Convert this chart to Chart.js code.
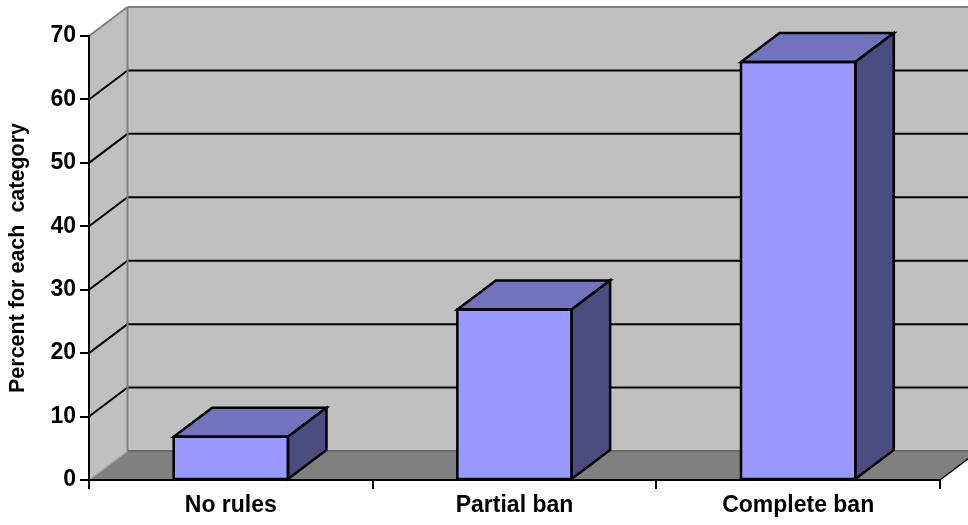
<!DOCTYPE html>
<html>
<head>
<meta charset="utf-8">
<script src="https://cdn.jsdelivr.net/npm/chart.js@4"></script>
<style>
  html, body { margin: 0; padding: 0; background: #ffffff; }
  #wrap { width: 968px; height: 525px; }
</style>
</head>
<body>
<div id="wrap"><canvas id="c" width="968" height="525"></canvas></div>
<script>
// Survey answers: share of respondents per rule type
const categories = ['No rules', 'Partial ban', 'Complete ban'];
const percentValues = [6.8, 26.9, 65.9];
const yTicks = [0, 10, 20, 30, 40, 50, 60, 70];
const yAxisTitle = 'Percent for each  category';

// Depth of the 3-D box (pixels back and up)
const DEPTH_X = 38.5;
const DEPTH_Y = 29;

const FONT = "'Liberation Sans', Arial, sans-serif";

function poly(ctx, pts, fill, stroke, lw) {
  ctx.beginPath();
  ctx.moveTo(pts[0][0], pts[0][1]);
  for (let i = 1; i < pts.length; i++) ctx.lineTo(pts[i][0], pts[i][1]);
  ctx.closePath();
  if (fill) { ctx.fillStyle = fill; ctx.fill(); }
  if (stroke) { ctx.strokeStyle = stroke; ctx.lineWidth = lw; ctx.lineJoin = 'miter'; ctx.stroke(); }
}

function line(ctx, x1, y1, x2, y2, color, lw) {
  ctx.beginPath();
  ctx.moveTo(x1, y1);
  ctx.lineTo(x2, y2);
  ctx.strokeStyle = color;
  ctx.lineWidth = lw;
  ctx.stroke();
}

// Walls, floor and gridlines of the 3-D frame
const frame3d = {
  id: 'frame3d',
  beforeDraw(chart) {
    const ctx = chart.ctx;
    const a = chart.chartArea;
    const y = chart.scales.y;
    const L = a.left, R = a.right, T = a.top, B = a.bottom;
    const far = chart.width + 20;
    ctx.save();
    // back wall
    poly(ctx, [[L + DEPTH_X, T - DEPTH_Y], [far, T - DEPTH_Y], [far, B - DEPTH_Y], [L + DEPTH_X, B - DEPTH_Y]], '#c0c0c0');
    // left side wall
    poly(ctx, [[L, T], [L + DEPTH_X, T - DEPTH_Y], [L + DEPTH_X, B - DEPTH_Y], [L, B]], '#c0c0c0');
    // floor
    poly(ctx, [[L, B], [R, B], [R + DEPTH_X, B - DEPTH_Y], [L + DEPTH_X, B - DEPTH_Y]], '#808080');

    // gridlines on the walls
    ctx.lineCap = 'butt';
    yTicks.forEach(v => {
      const py = y.getPixelForValue(v);
      if (v === yTicks[0] || v === yTicks[yTicks.length - 1]) return;
      line(ctx, L, py, L + DEPTH_X, py - DEPTH_Y, '#000000', 2);
      line(ctx, L + DEPTH_X, py - DEPTH_Y, far, py - DEPTH_Y, '#000000', 2);
    });
    // wall edges
    const topY = y.getPixelForValue(yTicks[yTicks.length - 1]);
    const botY = y.getPixelForValue(yTicks[0]);
    line(ctx, L, topY, L + DEPTH_X, topY - DEPTH_Y, '#808080', 2);
    line(ctx, L + DEPTH_X, topY - DEPTH_Y, far, topY - DEPTH_Y, '#808080', 2);
    line(ctx, L + DEPTH_X, topY - DEPTH_Y, L + DEPTH_X, botY - DEPTH_Y, '#808080', 2);
    line(ctx, L + DEPTH_X, botY - DEPTH_Y, far, botY - DEPTH_Y, '#6a6a6a', 2);
    line(ctx, L, botY, L + DEPTH_X, botY - DEPTH_Y, '#a8a8a8', 1.5);
    // right front edge of the floor
    line(ctx, R, botY, R + DEPTH_X, botY - DEPTH_Y, '#000000', 1.5);
    ctx.restore();
  }
};

// Top and side faces of each column
const columns3d = {
  id: 'columns3d',
  afterDatasetsDraw(chart) {
    const ctx = chart.ctx;
    const meta = chart.getDatasetMeta(0);
    ctx.save();
    meta.data.forEach(bar => {
      const p = bar.getProps(['x', 'y', 'base', 'width'], true);
      const l = p.x - p.width / 2, r = p.x + p.width / 2;
      const t = p.y, b = p.base;
      poly(ctx, [[l, t], [r, t], [r + DEPTH_X, t - DEPTH_Y], [l + DEPTH_X, t - DEPTH_Y]], '#7373bd', '#000000', 2.5);
      poly(ctx, [[r, t], [r + DEPTH_X, t - DEPTH_Y], [r + DEPTH_X, b - DEPTH_Y], [r, b]], '#4c4c80', '#000000', 2.5);
      // front outline on top so the joins stay crisp
      poly(ctx, [[l, t], [r, t], [r, b], [l, b]], null, '#000000', 2.5);
    });
    ctx.restore();
  }
};

new Chart(document.getElementById('c'), {
  type: 'bar',
  data: {
    labels: categories,
    datasets: [{
      data: percentValues,
      backgroundColor: '#9999ff',
      borderColor: '#000000',
      borderWidth: 0,
      barPercentage: 0.403,
      categoryPercentage: 1.0
    }]
  },
  options: {
    responsive: false,
    animation: false,
    devicePixelRatio: 1,
    layout: { padding: { top: 36, right: 28, left: 0, bottom: 0 } },
    plugins: {
      legend: { display: false },
      tooltip: { enabled: false }
    },
    scales: {
      x: {
        afterFit(scale) { scale.height = 45; },
        grid: {
          offset: true,
          drawOnChartArea: false,
          drawTicks: true,
          tickLength: 9,
          color: '#000000',
          lineWidth: 2
        },
        border: { display: true, color: '#000000', width: 2 },
        ticks: {
          color: '#000000',
          padding: 3,
          font: { family: FONT, size: 23, weight: 'bold' }
        }
      },
      y: {
        min: yTicks[0],
        max: yTicks[yTicks.length - 1],
        afterFit(scale) { scale.width = 89; },
        afterBuildTicks(scale) { scale.ticks = yTicks.map(v => ({ value: v })); },
        grid: {
          drawOnChartArea: false,
          drawTicks: true,
          tickLength: 9,
          color: '#000000',
          lineWidth: 2
        },
        border: { display: true, color: '#000000', width: 2 },
        ticks: {
          color: '#000000',
          padding: 4,
          font: { family: FONT, size: 23, weight: 'bold' }
        },
        title: {
          display: true,
          text: yAxisTitle,
          color: '#000000',
          padding: { top: 5, bottom: 0 },
          font: { family: FONT, size: 21.5, weight: 'bold' }
        }
      }
    }
  },
  plugins: [frame3d, columns3d]
});
</script>
</body>
</html>
